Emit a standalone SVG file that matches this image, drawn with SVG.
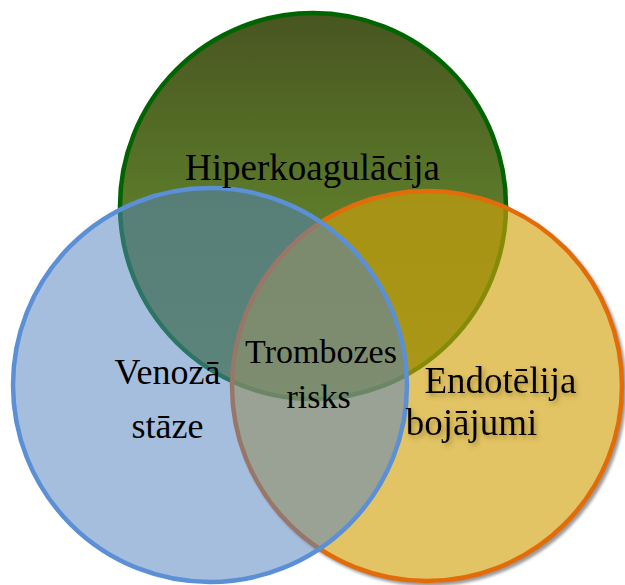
<svg xmlns="http://www.w3.org/2000/svg" width="625" height="585" viewBox="0 0 625 585">
<defs>
<linearGradient id="gGreen" x1="0" y1="0" x2="0" y2="1">
<stop offset="0" stop-color="#485520"/>
<stop offset="0.5" stop-color="#5c7a2a"/>
<stop offset="1" stop-color="#66882f"/>
</linearGradient>
<filter id="blur" x="-10%" y="-10%" width="120%" height="120%">
<feGaussianBlur stdDeviation="1.5"/>
</filter>
<filter id="tshadow" x="-10%" y="-30%" width="130%" height="170%">
<feDropShadow dx="2" dy="3" stdDeviation="2.5" flood-color="#5a4a10" flood-opacity="0.45"/>
</filter>
<mask id="outsideOrange" maskUnits="userSpaceOnUse" x="0" y="0" width="625" height="585">
<rect x="0" y="0" width="625" height="585" fill="#fff"/>
<circle cx="427" cy="386" r="196.5" fill="#000"/>
</mask>
</defs>
<style>
.lbl{font-family:"Liberation Serif","Times New Roman",serif;fill:#000;text-anchor:middle}
.sh{filter:url(#tshadow)}
.c{stroke-width:4.5}
</style>
<g id="hiperkoagulacija">
<circle class="c" cx="313" cy="206" r="193" fill="url(#gGreen)" stroke="#006400"/>
</g>
<g id="endotelija">
<circle cx="429.5" cy="389" r="197" fill="#9a9a9a" filter="url(#blur)" mask="url(#outsideOrange)"/>
<circle class="c" cx="427" cy="386" r="195" fill="#d2a20a" fill-opacity="0.63" stroke="#e36c0a"/>
</g>
<g id="venoza">
<circle class="c" cx="210" cy="385" r="197" fill="#5482c0" fill-opacity="0.52" stroke="#5b8fd6"/>
</g>
<g id="connectors"/>
<g id="labels">
<text class="lbl" x="312.5" y="180" font-size="37">Hiperkoagulācija</text>
<text class="lbl" x="167.5" y="384" font-size="36">Venozā</text>
<text class="lbl" x="167.5" y="438" font-size="36">stāze</text>
<text class="lbl sh" x="500.5" y="393" font-size="37">Endotēlija</text>
<text class="lbl sh" x="471.5" y="435" font-size="37">bojājumi</text>
</g>
<g id="trombozes-risks">
<text class="lbl" x="321" y="363" font-size="34">Trombozes</text>
<text class="lbl" x="318.5" y="408" font-size="34">risks</text>
</g>
</svg>
